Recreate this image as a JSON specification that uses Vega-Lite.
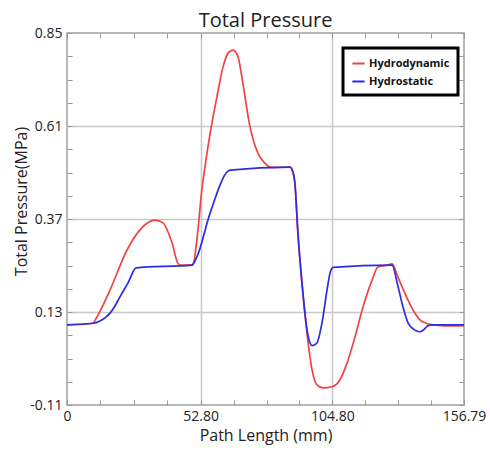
{
  "$schema": "https://vega.github.io/schema/vega-lite/v6.json",
  "width": 397,
  "height": 372,
  "autosize": "none",
  "padding": {"left": 67, "top": 33, "right": 26, "bottom": 50},
  "background": "white",
  "config": {
    "font": "Open Sans",
    "view": {"stroke": "#a0a0a0", "strokeWidth": 1.5}
  },
  "title": {
    "text": "Total Pressure",
    "fontSize": 20,
    "fontWeight": "normal",
    "font": "Open Sans",
    "color": "#222222",
    "baseline": "alphabetic",
    "offset": 7,
    "dy": 28
  },
  "datasets": {
    "pressure": [
      {"series": "Hydrodynamic", "x": 0, "y": 0.097},
      {"series": "Hydrodynamic", "x": 10.3, "y": 0.101},
      {"series": "Hydrodynamic", "x": 11.1, "y": 0.109},
      {"series": "Hydrodynamic", "x": 17.0, "y": 0.187},
      {"series": "Hydrodynamic", "x": 23.7, "y": 0.29},
      {"series": "Hydrodynamic", "x": 28.8, "y": 0.342},
      {"series": "Hydrodynamic", "x": 32.0, "y": 0.361},
      {"series": "Hydrodynamic", "x": 34.8, "y": 0.367},
      {"series": "Hydrodynamic", "x": 37.9, "y": 0.36},
      {"series": "Hydrodynamic", "x": 41.5, "y": 0.308},
      {"series": "Hydrodynamic", "x": 43.8, "y": 0.256},
      {"series": "Hydrodynamic", "x": 45.0, "y": 0.251},
      {"series": "Hydrodynamic", "x": 49.4, "y": 0.252},
      {"series": "Hydrodynamic", "x": 50.2, "y": 0.262},
      {"series": "Hydrodynamic", "x": 51.0, "y": 0.3},
      {"series": "Hydrodynamic", "x": 52.0, "y": 0.36},
      {"series": "Hydrodynamic", "x": 53.0, "y": 0.43},
      {"series": "Hydrodynamic", "x": 54.5, "y": 0.505},
      {"series": "Hydrodynamic", "x": 56.5, "y": 0.59},
      {"series": "Hydrodynamic", "x": 59.2, "y": 0.685},
      {"series": "Hydrodynamic", "x": 61.6, "y": 0.762},
      {"series": "Hydrodynamic", "x": 63.6, "y": 0.798},
      {"series": "Hydrodynamic", "x": 65.6, "y": 0.806},
      {"series": "Hydrodynamic", "x": 67.5, "y": 0.79},
      {"series": "Hydrodynamic", "x": 69.1, "y": 0.735},
      {"series": "Hydrodynamic", "x": 72.3, "y": 0.607},
      {"series": "Hydrodynamic", "x": 75.4, "y": 0.54},
      {"series": "Hydrodynamic", "x": 78.0, "y": 0.515},
      {"series": "Hydrodynamic", "x": 81.0, "y": 0.503},
      {"series": "Hydrodynamic", "x": 88.1, "y": 0.504},
      {"series": "Hydrodynamic", "x": 89.3, "y": 0.49},
      {"series": "Hydrodynamic", "x": 90.0, "y": 0.463},
      {"series": "Hydrodynamic", "x": 91.2, "y": 0.334},
      {"series": "Hydrodynamic", "x": 92.8, "y": 0.205},
      {"series": "Hydrodynamic", "x": 94.8, "y": 0.075},
      {"series": "Hydrodynamic", "x": 96.8, "y": -0.02},
      {"series": "Hydrodynamic", "x": 98.7, "y": -0.058},
      {"series": "Hydrodynamic", "x": 101.1, "y": -0.066},
      {"series": "Hydrodynamic", "x": 104.7, "y": -0.063},
      {"series": "Hydrodynamic", "x": 107.8, "y": -0.045},
      {"series": "Hydrodynamic", "x": 110.6, "y": -0.002},
      {"series": "Hydrodynamic", "x": 113.7, "y": 0.065},
      {"series": "Hydrodynamic", "x": 116.9, "y": 0.143},
      {"series": "Hydrodynamic", "x": 120.5, "y": 0.213},
      {"series": "Hydrodynamic", "x": 122.8, "y": 0.246},
      {"series": "Hydrodynamic", "x": 126.4, "y": 0.251},
      {"series": "Hydrodynamic", "x": 128.4, "y": 0.254},
      {"series": "Hydrodynamic", "x": 130.7, "y": 0.22},
      {"series": "Hydrodynamic", "x": 134.3, "y": 0.166},
      {"series": "Hydrodynamic", "x": 137.4, "y": 0.127},
      {"series": "Hydrodynamic", "x": 140.6, "y": 0.104},
      {"series": "Hydrodynamic", "x": 144.6, "y": 0.097},
      {"series": "Hydrodynamic", "x": 153.6, "y": 0.094},
      {"series": "Hydrodynamic", "x": 156.79, "y": 0.095},
      {"series": "Hydrostatic", "x": 0, "y": 0.097},
      {"series": "Hydrostatic", "x": 10.3, "y": 0.101},
      {"series": "Hydrostatic", "x": 13.0, "y": 0.107},
      {"series": "Hydrostatic", "x": 15.0, "y": 0.115},
      {"series": "Hydrostatic", "x": 17.0, "y": 0.127},
      {"series": "Hydrostatic", "x": 19.0, "y": 0.146},
      {"series": "Hydrostatic", "x": 20.9, "y": 0.169},
      {"series": "Hydrostatic", "x": 24.1, "y": 0.205},
      {"series": "Hydrostatic", "x": 27.3, "y": 0.244},
      {"series": "Hydrostatic", "x": 49.4, "y": 0.251},
      {"series": "Hydrostatic", "x": 51.3, "y": 0.272},
      {"series": "Hydrostatic", "x": 56.5, "y": 0.385},
      {"series": "Hydrostatic", "x": 64.4, "y": 0.496},
      {"series": "Hydrostatic", "x": 88.1, "y": 0.504},
      {"series": "Hydrostatic", "x": 89.3, "y": 0.49},
      {"series": "Hydrostatic", "x": 90.0, "y": 0.463},
      {"series": "Hydrostatic", "x": 91.2, "y": 0.334},
      {"series": "Hydrostatic", "x": 92.8, "y": 0.205},
      {"series": "Hydrostatic", "x": 94.8, "y": 0.084},
      {"series": "Hydrostatic", "x": 96.0, "y": 0.05},
      {"series": "Hydrostatic", "x": 96.8, "y": 0.043},
      {"series": "Hydrostatic", "x": 98.7, "y": 0.05},
      {"series": "Hydrostatic", "x": 100.7, "y": 0.102},
      {"series": "Hydrostatic", "x": 102.7, "y": 0.187},
      {"series": "Hydrostatic", "x": 103.9, "y": 0.231},
      {"series": "Hydrostatic", "x": 105.1, "y": 0.245},
      {"series": "Hydrostatic", "x": 128.4, "y": 0.251},
      {"series": "Hydrostatic", "x": 130.4, "y": 0.205},
      {"series": "Hydrostatic", "x": 132.7, "y": 0.143},
      {"series": "Hydrostatic", "x": 134.7, "y": 0.102},
      {"series": "Hydrostatic", "x": 137.2, "y": 0.084},
      {"series": "Hydrostatic", "x": 139.4, "y": 0.079},
      {"series": "Hydrostatic", "x": 141.0, "y": 0.085},
      {"series": "Hydrostatic", "x": 142.6, "y": 0.095},
      {"series": "Hydrostatic", "x": 144.6, "y": 0.097},
      {"series": "Hydrostatic", "x": 156.79, "y": 0.097}
    ]
  },
  "layer": [
    {
      "data": {"name": "pressure"},
      "mark": {"type": "line", "interpolate": "monotone", "strokeWidth": 1.7},
      "encoding": {
        "x": {
          "field": "x",
          "type": "quantitative",
          "scale": {"domain": [0, 156.79], "nice": false, "zero": false},
          "axis": {
            "orient": "bottom",
            "values": [0, 13.2, 26.4, 39.6, 52.8, 65.8, 78.8, 91.8, 104.8, 117.8, 130.8, 143.8, 156.79],
            "labelExpr": "datum.value == 0 ? '0' : ((abs(datum.value - 52.8) < 0.01 || abs(datum.value - 104.8) < 0.01 || abs(datum.value - 156.79) < 0.01) ? format(datum.value, '.2f') : '')",
            "labelFontSize": 14,
            "labelColor": "#222222",
            "labelOverlap": false,
            "labelFlush": false,
            "labelPadding": 9,
            "domain": false,
            "ticks": true,
            "tickSize": -5,
            "tickColor": "#999999",
            "grid": true,
            "gridColor": "#c8c8c8",
            "gridWidth": 1.5,
            "gridOpacity": {"condition": {"test": "abs(datum.value - 52.8) < 0.01 || abs(datum.value - 104.8) < 0.01", "value": 1}, "value": 0},
            "title": "Path Length (mm)",
            "titleFontSize": 16,
            "titleFontWeight": "normal",
            "titleColor": "#222222",
            "titlePadding": 4
          }
        },
        "y": {
          "field": "y",
          "type": "quantitative",
          "scale": {"domain": [-0.11, 0.85], "nice": false, "zero": false},
          "axis": {
            "orient": "left",
            "values": [-0.11, -0.05, 0.01, 0.07, 0.13, 0.19, 0.25, 0.31, 0.37, 0.43, 0.49, 0.55, 0.61, 0.67, 0.73, 0.79, 0.85],
            "labelExpr": "(abs(datum.value + 0.11) < 0.001 || abs(datum.value - 0.13) < 0.001 || abs(datum.value - 0.37) < 0.001 || abs(datum.value - 0.61) < 0.001 || abs(datum.value - 0.85) < 0.001) ? replace(format(datum.value, '.2f'), '\u2212', '-') : ''",
            "labelFontSize": 14,
            "labelColor": "#222222",
            "labelOverlap": false,
            "labelFlush": false,
            "labelPadding": 10,
            "domain": false,
            "ticks": true,
            "tickSize": -5,
            "tickColor": "#999999",
            "grid": true,
            "gridColor": "#c8c8c8",
            "gridWidth": 1.5,
            "gridOpacity": {"condition": {"test": "abs(datum.value - 0.13) < 0.001 || abs(datum.value - 0.37) < 0.001 || abs(datum.value - 0.61) < 0.001", "value": 1}, "value": 0},
            "title": "Total Pressure(MPa)",
            "titleFontSize": 16,
            "titleFontWeight": "normal",
            "titleColor": "#222222",
            "titleAngle": 270,
            "titleAlign": "center",
            "titleBaseline": "middle",
            "titleX": -46,
            "titleY": 168
          }
        },
        "color": {
          "field": "series",
          "type": "nominal",
          "scale": {"domain": ["Hydrodynamic", "Hydrostatic"], "range": ["#f04444", "#2b2be8"]},
          "legend": {
            "orient": "none",
            "legendX": 276,
            "legendY": 15,
            "title": null,
            "strokeColor": "#000000",
            "fillColor": "#ffffff",
            "padding": 8,
            "symbolType": "stroke",
            "symbolSize": 150,
            "symbolStrokeWidth": 2,
            "labelFont": "Open Sans",
            "labelFontWeight": "bold",
            "labelFontSize": 11,
            "labelColor": "#111111",
            "labelOffset": 3,
            "rowPadding": 5,
            "encode": {"legend": {"update": {"strokeWidth": {"value": 3}}}}
          }
        }
      }
    },
    {
      "data": {"name": "pressure"},
      "mark": {"type": "point", "opacity": 0},
      "encoding": {
        "x": {
          "field": "x",
          "type": "quantitative",
          "axis": {
            "orient": "top",
            "values": [0, 13.2, 26.4, 39.6, 52.8, 65.8, 78.8, 91.8, 104.8, 117.8, 130.8, 143.8, 156.79],
            "labels": false,
            "domain": false,
            "grid": false,
            "tickSize": -5,
            "tickColor": "#999999",
            "title": null
          }
        },
        "y": {
          "field": "y",
          "type": "quantitative",
          "axis": {
            "orient": "right",
            "values": [-0.11, -0.05, 0.01, 0.07, 0.13, 0.19, 0.25, 0.31, 0.37, 0.43, 0.49, 0.55, 0.61, 0.67, 0.73, 0.79, 0.85],
            "labels": false,
            "domain": false,
            "grid": false,
            "tickSize": -5,
            "tickColor": "#999999",
            "title": null
          }
        }
      }
    }
  ],
  "resolve": {"axis": {"x": "independent", "y": "independent"}}
}
